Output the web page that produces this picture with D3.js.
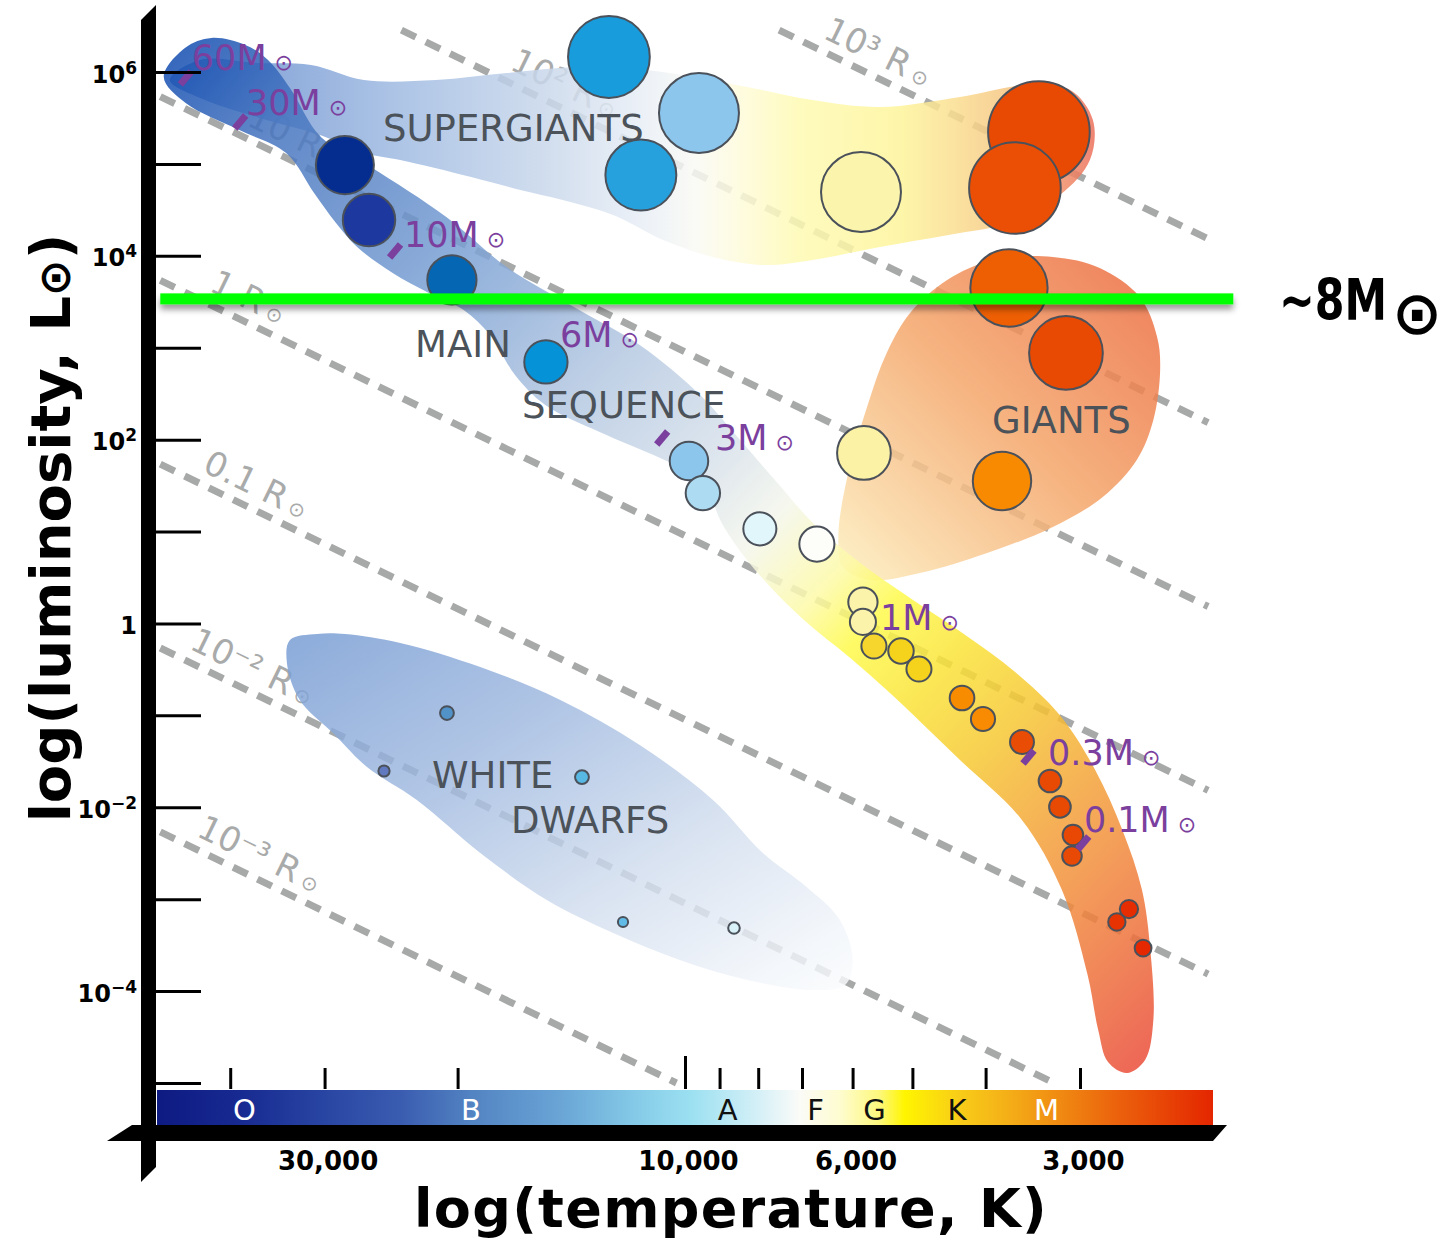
<!DOCTYPE html>
<html>
<head>
<meta charset="utf-8">
<script src="https://cdn.jsdelivr.net/npm/d3@7"></script>
<style>
  body { margin: 0; background: #fff; }
  svg { display: block; font-family: "DejaVu Sans", Verdana, sans-serif; }
</style>
</head>
<body>
<div id="chart"></div>
<script>
// ---- data (temperature in K, luminosity in L_sun) ----
var mainTemps = [28200, 26200, 20350, 15280, 9880, 9470, 7960, 6690, 5814, 5814, 5622, 5177, 4901, 4298, 4032, 3580, 3287, 3189, 3065, 3074, 2584, 2681, 2475];
var mainLums = [9.7e4, 2.45e4, 5460, 700, 58.6, 26.2, 10.7, 7.3, 1.71, 1.04, 0.569, 0.501, 0.319, 0.1545, 0.0912, 0.0513, 0.0193, 0.0101, 0.0050, 0.00295, 7.8e-4, 5.65e-4, 2.94e-4];
var superTemps = [12610, 9583, 11440, 5848, 3400, 3658];
var superLums = [1.456e6, 3.58e5, 7.57e4, 4.95e4, 2.22e5, 5.47e4];
var giantTemps = [3725, 3131, 5796, 3805];
var giantLums = [4467, 877, 71.6, 35.5];
var dwarfTemps = [20660, 25030, 13690, 12080, 8613];
var dwarfLums = [0.106, 0.0248, 0.0213, 5.65e-4, 4.85e-4];

// mass markers along the main sequence (null = no tick mark)
var massNames = ["60", "30", "10", "6", "3", "1", "0.3", "0.1"];
var massTickTemps = [45800, 38800, 24200, null, 10720, null, 3510, 2970];
var massTickLums = [8.6e5, 2.86e5, 11300, null, 104, null, 0.0352, 0.00409];
var massLabelTemps = [44960, 38130, 23550, 14640, 9128, 5520, 3307, 2964];
var massLabelLums = [1.05e6, 3.40e5, 12470, 1019, 77.1, 0.849, 0.0288, 0.00538];

// lines of constant radius (R_sun)
var radiusValues = [1000, 100, 10, 1, 0.1, 0.01, 0.001];
var radiusNames = ["10³", "10²", "10", "1", "0.1", "10⁻²", "10⁻³"];
var radiusLabelTemps = [6700, 17400, 38800, 43500, 44400, 46200, 45200];
var lineTempRange = [49500, 2030];
var lineLumRange = [1e-5, 2.86e6];

// ~8 M_sun luminosity cut
var cutLum = 3400;
var cutTemps = [49500, 1880];

// region outlines as [log T, log L]
var msBand = [[4.690,5.946],[4.662,6.261],[4.627,6.370],[4.582,6.294],[4.552,6.131],[4.523,5.826],[4.482,5.293],[4.416,4.966],[4.316,4.422],[4.236,3.878],[4.140,3.411],[4.060,3.030],[3.980,2.486],[3.927,1.996],[3.881,1.561],[3.828,1.071],[3.768,0.658],[3.702,0.277],[3.629,-0.125],[3.563,-0.528],[3.504,-0.996],[3.457,-1.594],[3.421,-2.247],[3.395,-2.900],[3.384,-3.553],[3.380,-4.314],[3.391,-4.749],[3.415,-4.891],[3.440,-4.771],[3.453,-4.423],[3.467,-3.825],[3.501,-2.900],[3.554,-2.138],[3.636,-1.485],[3.733,-0.724],[3.786,-0.343],[3.835,-0.017],[3.877,0.310],[3.918,0.691],[3.950,1.071],[3.980,1.583],[4.033,1.800],[4.113,2.083],[4.185,2.377],[4.225,2.703],[4.258,3.139],[4.293,3.411],[4.339,3.596],[4.387,3.813],[4.434,4.096],[4.462,4.357],[4.491,4.684],[4.528,5.119],[4.590,5.369],[4.661,5.663]];
var sgBand = [[4.682,5.913],[4.642,6.131],[4.567,6.098],[4.495,6.076],[4.425,5.913],[4.330,5.913],[4.236,5.989],[4.140,6.054],[4.050,6.022],[3.918,5.837],[3.831,5.695],[3.742,5.619],[3.636,5.728],[3.547,5.859],[3.490,5.804],[3.460,5.478],[3.464,5.043],[3.504,4.662],[3.583,4.335],[3.636,4.248],[3.742,4.096],[3.831,3.955],[3.897,3.900],[3.963,3.987],[4.029,4.172],[4.095,4.444],[4.162,4.607],[4.218,4.716],[4.283,4.858],[4.377,5.043],[4.425,5.119],[4.483,5.315],[4.563,5.500],[4.642,5.717]];
var giantBlob = [[3.513,3.987],[3.451,3.868],[3.398,3.552],[3.375,3.117],[3.371,2.758],[3.380,2.214],[3.402,1.779],[3.447,1.376],[3.513,1.050],[3.600,0.767],[3.689,0.549],[3.755,0.473],[3.791,0.614],[3.797,0.941],[3.786,1.561],[3.759,2.355],[3.733,2.943],[3.702,3.378],[3.653,3.737],[3.592,3.955]];
var dwarfBlob = [[4.523,-0.180],[4.487,-0.115],[4.450,-0.115],[4.377,-0.212],[4.271,-0.474],[4.165,-0.833],[4.060,-1.322],[3.963,-1.921],[3.897,-2.497],[3.839,-2.867],[3.795,-3.226],[3.778,-3.661],[3.788,-3.933],[3.831,-3.988],[3.918,-3.879],[4.007,-3.661],[4.095,-3.368],[4.183,-3.009],[4.271,-2.497],[4.355,-1.921],[4.421,-1.562],[4.466,-1.192],[4.510,-0.833],[4.527,-0.430]];

// spectral classes
var spectralClasses = ["O", "B", "A", "F", "G", "K", "M"];
var spectralTemps = [38300, 19200, 8780, 6715, 5614, 4365, 3321];

// axis ticks
var tempTicks = [40000, 30000, 20000, 10000, 9000, 8000, 7000, 6000, 5000, 4000, 3000];
var tempLabels = [30000, 10000, 6000, 3000];
var lumTickExp = [-5, -4, -3, -2, -1, 0, 1, 2, 3, 4, 5, 6];
var lumTickBase = ["", "10", "", "10", "", "1", "", "10", "", "10", "", "10"];
var lumTickSup = ["", "-4", "", "-2", "", "", "", "2", "", "4", "", "6"];

// ---- chart ----
var W = 1447, H = 1242;
var svg = d3.select("#chart").append("svg").attr("width", W).attr("height", H);
var defs = svg.append("defs");

var x = d3.scaleLog().domain([50000, 2000]).range([157, 1213]);
var y = d3.scaleLog().domain([1e-5, 1e6]).range([1083, 72]);
var logTsun = Math.log10(5772);

function px(p) { return [x(Math.pow(10, p[0])), y(Math.pow(10, p[1]))]; }

function gradient(id, x1, y1, x2, y2, stops) {
    var g = defs.append("linearGradient").attr("id", id)
        .attr("x1", x1).attr("y1", y1).attr("x2", x2).attr("y2", y2);
    stops.forEach(function(s) {
        g.append("stop").attr("offset", s[0]).attr("stop-color", s[1]);
    });
}

gradient("msGrad", 0, 0, 1, 1, [[0,"#0b47ae"],[0.1,"#4574bf"],[0.25,"#799fd3"],[0.38,"#b3c7e1"],[0.48,"#d7e1eb"],[0.54,"#f4f6ec"],[0.6,"#fdfaa6"],[0.64,"#fefa4c"],[0.7,"#fae238"],[0.76,"#f6c733"],[0.82,"#f4a638"],[0.88,"#f1883d"],[0.95,"#ec633b"],[1,"#ea4738"]]);
gradient("sgGrad", 0, 0, 1, 0, [[0,"#4f7ac4"],[0.09,"#7397d2"],[0.25,"#a0bbe2"],[0.41,"#cad8eb"],[0.51,"#e8eef6"],[0.57,"#fafaf4"],[0.62,"#fefbd8"],[0.68,"#fefab3"],[0.79,"#fdf49a"],[0.85,"#fadd90"],[0.9,"#f6c883"],[0.94,"#f3a472"],[1,"#ec6f5b"]]);
gradient("giantGrad", 0, 1, 1, 0, [[0,"#fdf0bf"],[0.5,"#f4a66a"],[1,"#eb663c"]]);
gradient("dwarfGrad", 0, 0, 1, 1, [[0,"#7399d2"],[0.35,"#a1bae0"],[0.65,"#d1ddee"],[0.9,"#f1f5fa"],[1,"#fafcfd"]]);

// spectral colour bar
var barTemps = [50000, 38300, 29500, 23800, 19200, 14600, 11500, 9840, 7960, 7050, 6240, 5520, 5120, 4325, 3830, 3190, 2655, 2000];
var barColors = ["#0d1a82", "#182b92", "#2a47a4", "#3a5cb0", "#5283c2", "#6aa5d6", "#86cce8", "#9be0f1", "#d6f0f7", "#fbfbf8", "#fefcd0", "#fdf87a", "#fff500", "#f8cc18", "#f5b418", "#f08a12", "#eb600c", "#e42600"];
var barColor = d3.scaleLog().domain(barTemps).range(barColors);
var bg = defs.append("linearGradient").attr("id", "barGrad").attr("gradientUnits", "userSpaceOnUse")
    .attr("x1", x(50000)).attr("x2", x(2000)).attr("y1", 0).attr("y2", 0);
barTemps.forEach(function(t) {
    bg.append("stop").attr("offset", (x(t) - x(50000)) / (x(2000) - x(50000))).attr("stop-color", barColor(t));
});

var shadow = defs.append("filter").attr("id", "shadow")
    .attr("x", "-5%").attr("y", "-100%").attr("width", "110%").attr("height", "400%");
shadow.append("feDropShadow").attr("dx", 0).attr("dy", 5).attr("stdDeviation", 3)
    .attr("flood-color", "#000").attr("flood-opacity", 0.4);

// constant radius lines
function radiusLine(R) {
    var lr = Math.log10(R);
    var ll = function(lt) { return 2 * lr + 4 * (lt - logTsun); };
    var a = Math.log10(lineTempRange[0]), b = Math.log10(lineTempRange[1]);
    var lmax = Math.log10(lineLumRange[1]), lmin = Math.log10(lineLumRange[0]);
    if (ll(a) > lmax) a = (lmax - 2 * lr) / 4 + logTsun;
    if (ll(b) < lmin) b = (lmin - 2 * lr) / 4 + logTsun;
    return [[a, ll(a)], [b, ll(b)]];
}

var rl = svg.append("g").attr("class", "radius-lines");
radiusValues.forEach(function(R, i) {
    var seg = radiusLine(R);
    var p0 = px(seg[0]), p1 = px(seg[1]);
    rl.append("line")
        .attr("x1", p0[0]).attr("y1", p0[1]).attr("x2", p1[0]).attr("y2", p1[1])
        .attr("stroke", "#a7a8a8").attr("stroke-width", 7)
        .attr("stroke-dasharray", "16,11");
    var lt = Math.log10(radiusLabelTemps[i]);
    var lp = px([lt, 2 * Math.log10(R) + 4 * (lt - logTsun)]);
    var ang = Math.atan2(p1[1] - p0[1], p1[0] - p0[0]) * 180 / Math.PI;
    var t = rl.append("text")
        .attr("transform", "translate(" + lp[0] + "," + lp[1] + ") rotate(" + ang + ")")
        .attr("y", -12).attr("fill", "#a9aaaa").attr("font-size", 34);
    t.append("tspan").text(radiusNames[i] + " R");
    t.append("tspan").attr("dx", 6).attr("font-size", 20).text("⊙");
});

// regions
var blob = d3.line().curve(d3.curveCatmullRomClosed.alpha(0.5));
var regions = svg.append("g").attr("class", "regions");
regions.append("path").attr("d", blob(sgBand.map(px))).attr("fill", "url(#sgGrad)").attr("opacity", 0.85);
regions.append("path").attr("d", blob(giantBlob.map(px))).attr("fill", "url(#giantGrad)").attr("opacity", 0.85);
regions.append("path").attr("d", blob(dwarfBlob.map(px))).attr("fill", "url(#dwarfGrad)").attr("opacity", 0.82);
regions.append("path").attr("d", blob(msBand.map(px))).attr("fill", "url(#msGrad)").attr("opacity", 0.85);

// region labels
var regionNames = [["SUPERGIANTS", 383, 141], ["MAIN", 415, 357], ["SEQUENCE", 522, 418], ["GIANTS", 992, 433], ["WHITE", 432, 788], ["DWARFS", 511, 833]];
svg.append("g").selectAll("text").data(regionNames).enter().append("text")
    .attr("x", function(d) { return d[1]; }).attr("y", function(d) { return d[2]; })
    .attr("font-size", 37).attr("fill", "#4b5259")
    .text(function(d) { return d[0]; });

// stars
var starColor = d3.scaleLog()
    .domain([2500, 3100, 3450, 3700, 3800, 4300, 4900, 5600, 5800, 6700, 8000, 9500, 9580, 9900, 11500, 15000, 20000, 26000, 28500])
    .range(["#e52800", "#e84a04", "#e84a04", "#ea5005", "#f88a02", "#f88c00", "#f5d21c", "#f5d21c", "#fbf3a8", "#fdfdfb", "#dff6fa", "#acdcf2", "#8cc6ec", "#8cc6ec", "#22a0dc", "#0595d8", "#036ab4", "#2039a0", "#022b8e"])
    .clamp(true);
var size = d3.scaleLog().domain([0.005, 0.1, 1, 10, 200, 1400]).range([5, 8.5, 13, 28, 39.5, 51]).clamp(true);
function physRadius(T, L) { return Math.sqrt(L) * Math.pow(5772 / T, 2); }

function drawStars(temps, lums, cls, whiten) {
    var data = temps.map(function(t, i) { return { T: t, L: lums[i] }; });
    svg.append("g").attr("class", cls).selectAll("circle").data(data).enter().append("circle")
        .attr("cx", function(d) { return x(d.T); })
        .attr("cy", function(d) { return y(d.L); })
        .attr("r", function(d) { return size(physRadius(d.T, d.L)); })
        .attr("fill", function(d) { return d3.interpolateRgb(starColor(d.T), "#fff")(whiten); })
        .attr("stroke", "#4b515a").attr("stroke-width", 2);
}
drawStars(superTemps, superLums, "supergiants", 0);
drawStars(giantTemps, giantLums, "giants", 0);
drawStars(mainTemps, mainLums, "main", 0);
drawStars(dwarfTemps, dwarfLums, "dwarfs", 0.3);

// mass markers
var purple = "#7b3f9e";
var mg = svg.append("g").attr("class", "masses");
massNames.forEach(function(m, i) {
    if (massTickTemps[i] !== null) {
        mg.append("rect")
            .attr("x", -3.5).attr("y", -8.5).attr("width", 7).attr("height", 17)
            .attr("fill", purple)
            .attr("transform", "translate(" + x(massTickTemps[i]) + "," + y(massTickLums[i]) + ") rotate(40)");
    }
    var t = mg.append("text")
        .attr("x", x(massLabelTemps[i])).attr("y", y(massLabelLums[i]))
        .attr("fill", purple).attr("font-size", 35);
    t.append("tspan").text(m + "M");
    t.append("tspan").attr("dx", 8).attr("font-size", 22).text("⊙");
});

// ~8 M_sun line
var cx0 = x(cutTemps[0]), cx1 = x(cutTemps[1]);
svg.append("rect")
    .attr("x", cx0).attr("y", y(cutLum) - 5.5)
    .attr("width", cx1 - cx0).attr("height", 11)
    .attr("fill", "#00ff00").attr("filter", "url(#shadow)");
svg.append("text").attr("transform", "translate(1279,320) scale(0.75,1)")
    .attr("font-weight", "bold").attr("font-size", 57).text("~8M");
svg.append("text").attr("x", 1392).attr("y", 334)
    .attr("font-weight", "bold").attr("font-size", 60).text("⊙");

// spectral bar
svg.append("rect").attr("x", x(50000)).attr("y", 1090).attr("width", x(2000) - x(50000)).attr("height", 35)
    .attr("fill", "url(#barGrad)");
svg.append("g").selectAll("text").data(spectralClasses).enter().append("text")
    .attr("x", function(d, i) { return x(spectralTemps[i]); })
    .attr("y", 1120).attr("text-anchor", "middle").attr("font-size", 29)
    .attr("fill", function(d, i) { return d3.lab(barColor(spectralTemps[i])).l > 70 ? "#111" : "#fff"; })
    .text(function(d) { return d; });

// axes frame (thick black bars)
svg.append("path").attr("d", "M141,20L156,5L156,1167L141,1182Z").attr("fill", "#000");
svg.append("path").attr("d", "M132,1125L1227,1125L1213,1141L107,1141Z").attr("fill", "#000");

// y axis ticks + labels
var yAxis = d3.axisLeft(y)
    .tickValues(lumTickExp.map(function(e) { return Math.pow(10, e); }))
    .tickSize(-45).tickPadding(19)
    .tickFormat("");
var ya = svg.append("g").attr("transform", "translate(156,0)").call(yAxis);
ya.select(".domain").remove();
ya.selectAll(".tick line").attr("stroke", "#000").attr("stroke-width", 3);
ya.selectAll(".tick text").each(function(d, i) {
    var t = d3.select(this).text("")
        .attr("font-size", 24).attr("font-weight", "bold")
        .attr("font-family", "DejaVu Sans, sans-serif").attr("fill", "#000").attr("dy", "0.42em");
    t.append("tspan").text(lumTickBase[i]);
    if (lumTickSup[i]) t.append("tspan").attr("font-size", 17).attr("dy", -9).text(lumTickSup[i].replace("-", "\u2212"));
});

// x axis ticks (above the bar) and labels (below)
var xTop = d3.axisTop(x).tickValues(tempTicks).tickSize(21).tickFormat("");
var xa = svg.append("g").attr("transform", "translate(0,1089)").call(xTop);
xa.select(".domain").remove();
xa.selectAll(".tick line").attr("stroke", "#000").attr("stroke-width", 3)
    .attr("y2", function(d) { return d === 10000 ? -33 : -21; });
var xBottom = d3.axisBottom(x).tickValues(tempLabels).tickSize(0).tickFormat(d3.format(","));
var xb = svg.append("g").attr("transform", "translate(0,1141)").call(xBottom);
xb.select(".domain").remove();
xb.selectAll(".tick text").attr("y", 29).attr("dy", 0).attr("dx", 3)
    .attr("font-size", 26).attr("font-weight", "bold")
    .attr("font-family", "DejaVu Sans, sans-serif").attr("fill", "#000");

// axis titles
svg.append("text").attr("x", 731).attr("y", 1227).attr("text-anchor", "middle")
    .attr("font-size", 54).attr("font-weight", "bold")
    .attr("letter-spacing", 1.3).text("log(temperature, K)");
var yt = svg.append("text").attr("transform", "translate(70,528) rotate(-90)")
    .attr("text-anchor", "middle").attr("font-size", 56).attr("font-weight", "bold");
yt.append("tspan").text("log(luminosity, L");
yt.append("tspan").attr("font-size", 44).text("⊙");
yt.append("tspan").text(")");
</script>
</body>
</html>
